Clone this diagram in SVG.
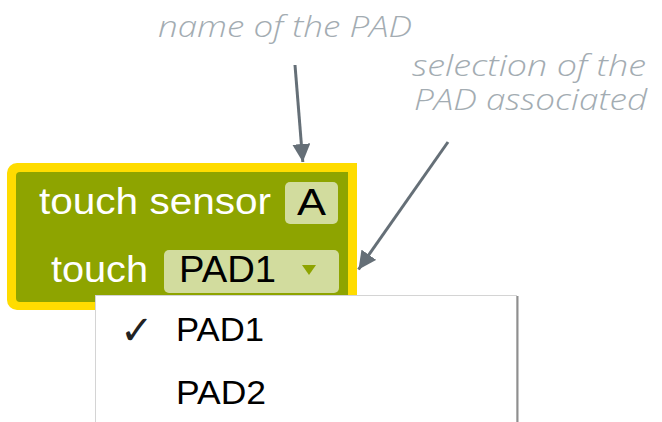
<svg xmlns="http://www.w3.org/2000/svg" width="662" height="422" viewBox="0 0 662 422">
  <style>
    .note { font-family: "Open Sans", "Noto Sans", sans-serif; font-style: italic; font-weight: 300; font-size: 30px; fill: #a3acb2; }
    .label { font-family: "Liberation Sans", Arial, sans-serif; font-size: 36px; fill: #ffffff; }
    .field { font-family: "Liberation Sans", Arial, sans-serif; font-size: 36px; fill: #000000; }
    .item { font-family: "Liberation Sans", Arial, sans-serif; font-size: 34px; fill: #000000; }
    .fieldbox { fill: #d2dc9e; }
    .conn { stroke: #656f77; stroke-width: 3; fill: none; }
  </style>
  <defs>
    <marker id="head" viewBox="0 0 10 10" refX="10" refY="5" markerWidth="6" markerHeight="6" markerUnits="strokeWidth" orient="auto">
      <path d="M0,0 L10,5 L0,10 z" fill="#656f77"/>
    </marker>
  </defs>

  <rect width="662" height="422" fill="#ffffff"/>

  <!-- annotations -->
  <g id="note-name">
    <text class="note" x="158" y="37" textLength="254" lengthAdjust="spacingAndGlyphs">name of the PAD</text>
  </g>
  <g id="note-selection">
    <text class="note" x="412" y="76" textLength="234" lengthAdjust="spacingAndGlyphs">selection of the</text>
    <text class="note" x="414" y="110" textLength="233" lengthAdjust="spacingAndGlyphs">PAD associated</text>
  </g>

  <!-- touch sensor block -->
  <g id="block">
    <path d="M17,163 H357 V310 H17 A10,10 0 0 1 7,300 V173 A10,10 0 0 1 17,163 Z" fill="#ffdc00"/>
    <path d="M20,172 H348 V302 H20 A4,4 0 0 1 16,298 V176 A4,4 0 0 1 20,172 Z" fill="#8ea400"/>
    <text class="label" x="39" y="214" textLength="232" lengthAdjust="spacingAndGlyphs">touch sensor</text>
    <rect class="fieldbox" x="285" y="182" width="53" height="42" rx="5"/>
    <text class="field" x="311.5" y="215" text-anchor="middle" textLength="29" lengthAdjust="spacingAndGlyphs">A</text>
    <text class="label" x="51" y="282" textLength="97" lengthAdjust="spacingAndGlyphs">touch</text>
    <rect class="fieldbox" x="164" y="250" width="175" height="43" rx="5"/>
    <text class="field" x="179" y="282" textLength="97" lengthAdjust="spacingAndGlyphs">PAD1</text>
    <path d="M302,265 H316 L309,275 Z" fill="#8ea400"/>
  </g>

  <!-- dropdown menu -->
  <g id="menu">
    <rect x="95.5" y="295.5" width="421" height="140" fill="#ffffff" stroke="#d4d4d4" stroke-width="1"/>
    <line x1="517.5" y1="296" x2="517.5" y2="422" stroke="#8f8f8f" stroke-width="2"/>
    <text x="120" y="344" font-family="DejaVu Sans, sans-serif" font-size="40" fill="#222222">✓</text>
    <text class="item" x="176" y="341" textLength="88" lengthAdjust="spacingAndGlyphs">PAD1</text>
    <text class="item" x="176" y="404" textLength="90" lengthAdjust="spacingAndGlyphs">PAD2</text>
  </g>

  <!-- connectors -->
  <g id="connectors">
    <line class="conn" x1="295" y1="65" x2="302.8" y2="162" marker-end="url(#head)"/>
    <line class="conn" x1="448" y1="142" x2="358.5" y2="269.5" marker-end="url(#head)"/>
  </g>
</svg>
